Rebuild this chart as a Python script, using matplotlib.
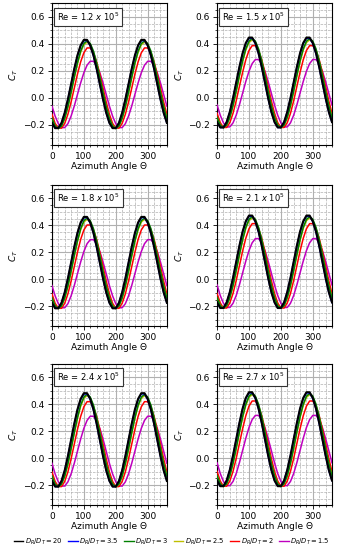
import matplotlib
matplotlib.use("Agg")
import matplotlib.pyplot as plt
from matplotlib.ticker import MultipleLocator

# azimuth angle samples (deg)
theta = [0, 10, 20, 30, 40, 50, 60, 70, 80, 90, 100, 110, 120, 130, 140, 150, 160, 170, 180,
         190, 200, 210, 220, 230, 240, 250, 260, 270, 280, 290, 300, 310, 320, 330, 340, 350, 360]

ratios = ["20", "3.5", "3", "2.5", "2", "1.5"]
colors = ["k", "b", "g", "y", "r", "m"]
re_labels = ["1.2", "1.5", "1.8", "2.1", "2.4", "2.7"]

# C_T, order follows ratios
ct_re12 = [
    [-.186, -.225, -.225, -.186, -.111, -.011, .102, .216, .316, .390, .430, .430, .390, .316, .216, .102, -.011, -.111, -.186,
     -.225, -.225, -.186, -.111, -.011, .102, .216, .316, .390, .430, .430, .390, .316, .216, .102, -.011, -.111, -.186],
    [-.186, -.225, -.225, -.186, -.112, -.013, .100, .213, .312, .386, .425, .425, .386, .312, .213, .100, -.013, -.112, -.186,
     -.225, -.225, -.186, -.112, -.013, .100, .213, .312, .386, .425, .425, .386, .312, .213, .100, -.013, -.112, -.186],
    [-.152, -.209, -.228, -.209, -.152, -.065, .041, .154, .260, .347, .403, .423, .403, .347, .260, .154, .041, -.065, -.152,
     -.209, -.228, -.209, -.152, -.065, .041, .154, .260, .347, .403, .423, .403, .347, .260, .154, .041, -.065, -.152],
    [-.153, -.209, -.228, -.209, -.153, -.068, .037, .148, .253, .338, .394, .413, .394, .338, .253, .148, .037, -.068, -.153,
     -.209, -.228, -.209, -.153, -.068, .037, .148, .253, .338, .394, .413, .394, .338, .253, .148, .037, -.068, -.153],
    [-.122, -.190, -.225, -.225, -.190, -.122, -.031, .072, .176, .267, .334, .370, .370, .334, .267, .176, .072, -.031, -.122,
     -.190, -.225, -.225, -.190, -.122, -.031, .072, .176, .267, .334, .370, .370, .334, .267, .176, .072, -.031, -.122],
    [-.061, -.136, -.192, -.221, -.221, -.192, -.136, -.061, .025, .111, .186, .242, .271, .271, .242, .186, .111, .025, -.061,
     -.136, -.192, -.221, -.221, -.192, -.136, -.061, .025, .111, .186, .242, .271, .271, .242, .186, .111, .025, -.061],
]

ct_re15 = [
    [-.180, -.220, -.220, -.180, -.104, -.002, .114, .229, .331, .407, .447, .447, .407, .331, .229, .114, -.002, -.104, -.180,
     -.220, -.220, -.180, -.104, -.002, .114, .229, .331, .407, .447, .447, .407, .331, .229, .114, -.002, -.104, -.180],
    [-.180, -.220, -.220, -.180, -.105, -.004, .111, .226, .327, .402, .442, .442, .402, .327, .226, .111, -.004, -.105, -.180,
     -.220, -.220, -.180, -.105, -.004, .111, .226, .327, .402, .442, .442, .402, .327, .226, .111, -.004, -.105, -.180],
    [-.145, -.202, -.222, -.202, -.145, -.057, .051, .167, .275, .363, .420, .440, .420, .363, .275, .167, .051, -.057, -.145,
     -.202, -.222, -.202, -.145, -.057, .051, .167, .275, .363, .420, .440, .420, .363, .275, .167, .051, -.057, -.145],
    [-.146, -.202, -.222, -.202, -.146, -.059, .047, .161, .267, .354, .410, .430, .410, .354, .267, .161, .047, -.059, -.146,
     -.202, -.222, -.202, -.146, -.059, .047, .161, .267, .354, .410, .430, .410, .354, .267, .161, .047, -.059, -.146],
    [-.115, -.184, -.220, -.220, -.184, -.115, -.022, .084, .189, .282, .351, .387, .387, .351, .282, .189, .084, -.022, -.115,
     -.184, -.220, -.220, -.184, -.115, -.022, .084, .189, .282, .351, .387, .387, .351, .282, .189, .084, -.022, -.115],
    [-.053, -.129, -.186, -.216, -.216, -.186, -.129, -.053, .034, .121, .197, .254, .284, .284, .254, .197, .121, .034, -.053,
     -.129, -.186, -.216, -.216, -.186, -.129, -.053, .034, .121, .197, .254, .284, .284, .254, .197, .121, .034, -.053],
]

ct_re18 = [
    [-.174, -.215, -.215, -.174, -.097, .006, .124, .242, .345, .422, .463, .463, .422, .345, .242, .124, .006, -.097, -.174,
     -.215, -.215, -.174, -.097, .006, .124, .242, .345, .422, .463, .463, .422, .345, .242, .124, .006, -.097, -.174],
    [-.174, -.215, -.215, -.174, -.098, .005, .122, .238, .341, .417, .458, .458, .417, .341, .238, .122, .005, -.098, -.174,
     -.215, -.215, -.174, -.098, .005, .122, .238, .341, .417, .458, .458, .417, .341, .238, .122, .005, -.098, -.174],
    [-.138, -.197, -.217, -.197, -.138, -.049, .061, .177, .287, .376, .435, .455, .435, .376, .287, .177, .061, -.049, -.138,
     -.197, -.217, -.197, -.138, -.049, .061, .177, .287, .376, .435, .455, .435, .376, .287, .177, .061, -.049, -.138],
    [-.140, -.197, -.217, -.197, -.140, -.052, .056, .172, .280, .368, .425, .445, .425, .368, .280, .172, .056, -.052, -.140,
     -.197, -.217, -.197, -.140, -.052, .056, .172, .280, .368, .425, .445, .425, .368, .280, .172, .056, -.052, -.140],
    [-.108, -.178, -.215, -.215, -.178, -.108, -.013, .094, .201, .296, .366, .403, .403, .366, .296, .201, .094, -.013, -.108,
     -.178, -.215, -.215, -.178, -.108, -.013, .094, .201, .296, .366, .403, .403, .366, .296, .201, .094, -.013, -.108],
    [-.046, -.123, -.181, -.211, -.211, -.181, -.123, -.046, .042, .129, .206, .264, .294, .294, .264, .206, .129, .042, -.046,
     -.123, -.181, -.211, -.211, -.181, -.123, -.046, .042, .129, .206, .264, .294, .294, .264, .206, .129, .042, -.046],
]

ct_re21 = [
    [-.171, -.213, -.213, -.171, -.094, .011, .130, .249, .354, .431, .473, .473, .431, .354, .249, .130, .011, -.094, -.171,
     -.213, -.213, -.171, -.094, .011, .130, .249, .354, .431, .473, .473, .431, .354, .249, .130, .011, -.094, -.171],
    [-.172, -.213, -.213, -.172, -.095, .009, .128, .246, .350, .427, .468, .468, .427, .350, .246, .128, .009, -.095, -.172,
     -.213, -.213, -.172, -.095, .009, .128, .246, .350, .427, .468, .468, .427, .350, .246, .128, .009, -.095, -.172],
    [-.135, -.195, -.215, -.195, -.135, -.045, .066, .184, .295, .385, .445, .465, .445, .385, .295, .184, .066, -.045, -.135,
     -.195, -.215, -.195, -.135, -.045, .066, .184, .295, .385, .445, .465, .445, .385, .295, .184, .066, -.045, -.135],
    [-.137, -.195, -.215, -.195, -.137, -.048, .062, .178, .288, .377, .435, .455, .435, .377, .288, .178, .062, -.048, -.137,
     -.195, -.215, -.195, -.137, -.048, .062, .178, .288, .377, .435, .455, .435, .377, .288, .178, .062, -.048, -.137],
    [-.105, -.175, -.213, -.213, -.175, -.105, -.009, .100, .209, .304, .375, .413, .413, .375, .304, .209, .100, -.009, -.105,
     -.175, -.213, -.213, -.175, -.105, -.009, .100, .209, .304, .375, .413, .413, .375, .304, .209, .100, -.009, -.105],
    [-.042, -.120, -.178, -.209, -.209, -.178, -.120, -.042, .047, .135, .213, .271, .302, .302, .271, .213, .135, .047, -.042,
     -.120, -.178, -.209, -.209, -.178, -.120, -.042, .047, .135, .213, .271, .302, .302, .271, .213, .135, .047, -.042],
]

ct_re24 = [
    [-.168, -.210, -.210, -.168, -.090, .016, .137, .257, .363, .441, .483, .483, .441, .363, .257, .137, .016, -.090, -.168,
     -.210, -.210, -.168, -.090, .016, .137, .257, .363, .441, .483, .483, .441, .363, .257, .137, .016, -.090, -.168],
    [-.168, -.210, -.210, -.168, -.090, .015, .134, .253, .358, .436, .478, .478, .436, .358, .253, .134, .015, -.090, -.168,
     -.210, -.210, -.168, -.090, .015, .134, .253, .358, .436, .478, .478, .436, .358, .253, .134, .015, -.090, -.168],
    [-.132, -.191, -.212, -.191, -.132, -.040, .072, .191, .303, .395, .454, .475, .454, .395, .303, .191, .072, -.040, -.132,
     -.191, -.212, -.191, -.132, -.040, .072, .191, .303, .395, .454, .475, .454, .395, .303, .191, .072, -.040, -.132],
    [-.133, -.192, -.212, -.192, -.133, -.043, .068, .185, .296, .386, .445, .465, .445, .386, .296, .185, .068, -.043, -.133,
     -.192, -.212, -.192, -.133, -.043, .068, .185, .296, .386, .445, .465, .445, .386, .296, .185, .068, -.043, -.133],
    [-.101, -.172, -.210, -.210, -.172, -.101, -.004, .105, .214, .311, .382, .420, .420, .382, .311, .214, .105, -.004, -.101,
     -.172, -.210, -.210, -.172, -.101, -.004, .105, .214, .311, .382, .420, .420, .382, .311, .214, .105, -.004, -.101],
    [-.037, -.116, -.175, -.206, -.206, -.175, -.116, -.037, .053, .143, .222, .281, .312, .312, .281, .222, .143, .053, -.037,
     -.116, -.175, -.206, -.206, -.175, -.116, -.037, .053, .143, .222, .281, .312, .312, .281, .222, .143, .053, -.037],
]

ct_re27 = [
    [-.165, -.207, -.207, -.165, -.086, .021, .142, .262, .369, .448, .490, .490, .448, .369, .262, .142, .021, -.086, -.165,
     -.207, -.207, -.165, -.086, .021, .142, .262, .369, .448, .490, .490, .448, .369, .262, .142, .021, -.086, -.165],
    [-.165, -.207, -.207, -.165, -.087, .019, .139, .259, .365, .443, .485, .485, .443, .365, .259, .139, .019, -.087, -.165,
     -.207, -.207, -.165, -.087, .019, .139, .259, .365, .443, .485, .485, .443, .365, .259, .139, .019, -.087, -.165],
    [-.129, -.189, -.210, -.189, -.129, -.037, .076, .196, .309, .401, .461, .482, .461, .401, .309, .196, .076, -.037, -.129,
     -.189, -.210, -.189, -.129, -.037, .076, .196, .309, .401, .461, .482, .461, .401, .309, .196, .076, -.037, -.129],
    [-.130, -.190, -.210, -.190, -.130, -.040, .072, .190, .302, .392, .452, .472, .452, .392, .302, .190, .072, -.040, -.130,
     -.190, -.210, -.190, -.130, -.040, .072, .190, .302, .392, .452, .472, .452, .392, .302, .190, .072, -.040, -.130],
    [-.097, -.169, -.207, -.207, -.169, -.097, -.001, .109, .219, .315, .387, .425, .425, .387, .315, .219, .109, -.001, -.097,
     -.169, -.207, -.207, -.169, -.097, -.001, .109, .219, .315, .387, .425, .425, .387, .315, .219, .109, -.001, -.097],
    [-.033, -.113, -.172, -.203, -.203, -.172, -.113, -.033, .058, .148, .228, .287, .318, .318, .287, .228, .148, .058, -.033,
     -.113, -.172, -.203, -.203, -.172, -.113, -.033, .058, .148, .228, .287, .318, .318, .287, .228, .148, .058, -.033],
]

all_ct = [ct_re12, ct_re15, ct_re18, ct_re21, ct_re24, ct_re27]

fig = plt.figure(figsize=(3.44, 5.5), dpi=100)

# axes boxes in figure fractions (left col / right col, three rows)
lefts = [0.151, 0.631]
bottoms = [0.7364, 0.4064, 0.0810]
w, h = 0.334, 0.2573

handles = None
for i, ct in enumerate(all_ct):
    row, col = divmod(i, 2)
    ax = fig.add_axes([lefts[col], bottoms[row], w, h])

    lines = []
    for j in range(len(ratios)):
        lw = 1.5 if j == 0 else 1.1
        (ln,) = ax.plot(theta, ct[j], color=colors[j], lw=lw, zorder=10 - j,
                        label=r"$D_R/D_T = %s$" % ratios[j])
        lines.append(ln)
    handles = lines

    ax.set_xlim(0, 360)
    ax.set_ylim(-0.35, 0.7)
    ax.xaxis.set_major_locator(MultipleLocator(100))
    ax.xaxis.set_minor_locator(MultipleLocator(20))
    ax.yaxis.set_major_locator(MultipleLocator(0.2))
    ax.yaxis.set_minor_locator(MultipleLocator(0.05))
    ax.grid(which="major", color="#b0b0b0", lw=0.8, ls="-")
    ax.grid(which="minor", color="#b0b0b0", lw=0.5, ls="--")
    ax.set_axisbelow(True)
    ax.tick_params(labelsize=6.5, length=3, width=0.6, pad=2)
    ax.tick_params(which="minor", length=1.5, width=0.5)
    for sp in ax.spines.values():
        sp.set_linewidth(0.8)

    ax.set_xlabel("Azimuth Angle \u0398", fontsize=6.5, labelpad=0.5)
    ax.set_ylabel("$C_T$", fontsize=6.5, labelpad=2)

    ax.text(0.045, 0.95, "Re = %s $x$ 10$^5$" % re_labels[i], transform=ax.transAxes,
            ha="left", va="top", fontsize=6, zorder=20,
            bbox=dict(boxstyle="square,pad=0.35", fc="white", ec="#333333", lw=0.8))

leg = fig.legend(handles=handles, loc="lower center", bbox_to_anchor=(0.5, 0.004), ncol=6,
                 fontsize=4.9, frameon=False, handlelength=1.4, handletextpad=0.25,
                 columnspacing=0.75, borderaxespad=0.0, borderpad=0.15)
for ln in leg.get_lines():
    ln.set_linewidth(1.0)

fig.savefig("out.png", dpi=100)
